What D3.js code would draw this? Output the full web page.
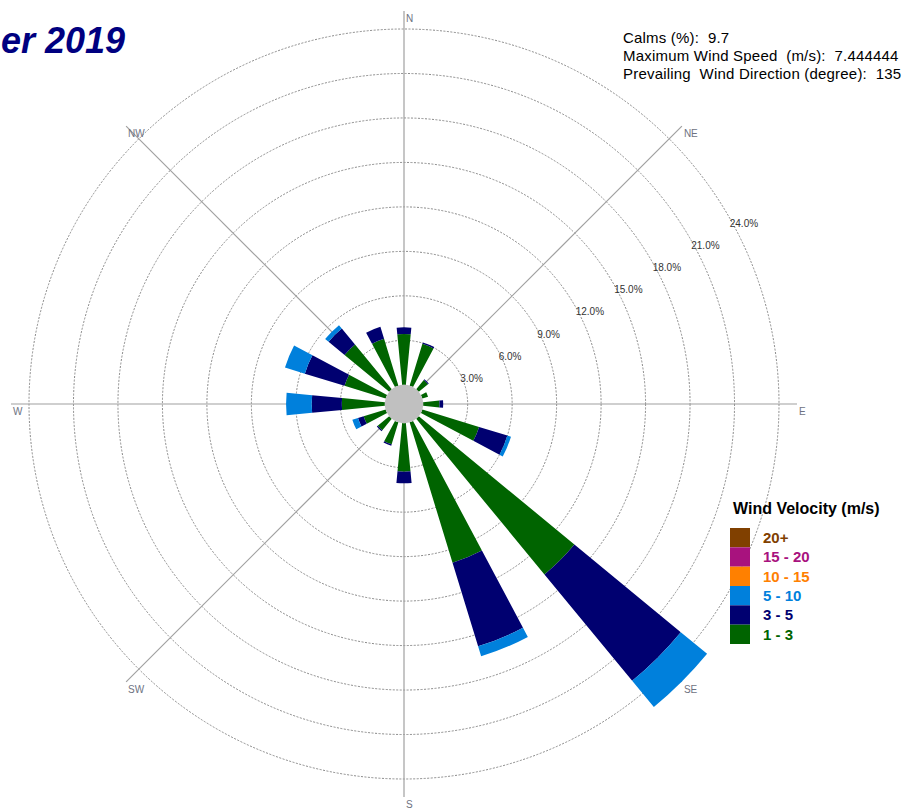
<!DOCTYPE html>
<html>
<head>
<meta charset="utf-8">
<script src="https://cdn.jsdelivr.net/npm/d3@7/dist/d3.min.js"></script>
<style>
    body { margin: 0; background: #ffffff; }
    svg text { font-family: Arial, "Liberation Sans", sans-serif; }
</style>
</head>
<body>
<div id="my_dataviz"></div>
<script>
// wind rose data, percent of all hours
var directions = ["N", "NNE", "NE", "ENE", "E", "ESE", "SE", "SSE", "S", "SSW", "SW", "WSW", "W", "WNW", "NW", "NNW"];
var speed1to3 = [3.43, 2.95, 0.8, 0.4, 1.1, 4.0, 13.6, 9.9, 3.27, 1.55, 1.0, 1.55, 2.9, 2.9, 3.9, 3.3];
var speed3to5 = [0.45, 0.1, 0.07, 0, 0.25, 2.0, 9.3, 5.9, 0.78, 0.1, 0.08, 0.4, 2.03, 2.8, 1.4, 0.85];
var speed5to10 = [0, 0, 0, 0, 0, 0.25, 2.3, 0.7, 0, 0, 0, 0.4, 1.73, 1.4, 0.3, 0];
var speed10to15 = [0, 0, 0, 0, 0, 0, 0, 0, 0, 0, 0, 0, 0, 0, 0, 0];
var speed15to20 = [0, 0, 0, 0, 0, 0, 0, 0, 0, 0, 0, 0, 0, 0, 0, 0];
var speed20plus = [0, 0, 0, 0, 0, 0, 0, 0, 0, 0, 0, 0, 0, 0, 0, 0];

var speedClasses = ["1 - 3", "3 - 5", "5 - 10", "10 - 15", "15 - 20", "20+"];
var classColors = ["#006400", "#000070", "#0080dc", "#ff8000", "#a8127e", "#804000"];

var ringTicks = [3, 6, 9, 12, 15, 18, 21, 24];
var compassLabels = ["N", "NE", "E", "SE", "S", "SW", "W", "NW"];

var titleText = "er 2019";
var infoLines = ["Calms (%):  9.7", "Maximum Wind Speed  (m/s):  7.444444", "Prevailing  Wind Direction (degree):  135"];
var legendTitle = "Wind Velocity (m/s)";

var width = 910;
var height = 810;
var cx = 404, cy = 404;
var calmRadius = 19.2;
var outerRadius = 375;
var axisLength = 393;

document.addEventListener('DOMContentLoaded', function () {
    drawWindRose();
});

function drawWindRose() {
    var svg = d3.select("#my_dataviz")
        .append("svg")
        .attr("width", width)
        .attr("height", height);

    var g = svg.append("g")
        .attr("transform", `translate(${cx},${cy})`);

    // radial scale starts at the edge of the calm circle
    const r = d3.scaleLinear()
        .domain([0, 24])
        .range([calmRadius, outerRadius]);

    // angle of each direction, 0 = north, clockwise
    const ang = d3.scalePoint()
        .domain(directions.concat(["N2"]))
        .range([0, 2 * Math.PI]);

    const compassAng = d3.scalePoint()
        .domain(compassLabels.concat(["N2"]))
        .range([0, 2 * Math.PI]);

    // dashed rings
    g.append("g")
        .selectAll("circle")
        .data(ringTicks)
        .join("circle")
        .attr("r", d => r(d))
        .style("fill", "none")
        .style("stroke", "#8a8a8a")
        .style("stroke-width", 1)
        .style("stroke-dasharray", "2,1.5");

    // compass axes
    g.append("g")
        .selectAll("line")
        .data(compassLabels)
        .join("line")
        .attr("x1", 0)
        .attr("y1", 0)
        .attr("x2", d => axisLength * Math.sin(compassAng(d)))
        .attr("y2", d => -axisLength * Math.cos(compassAng(d)))
        .style("stroke", "#a0a0a0")
        .style("stroke-width", 1.2);

    g.append("g")
        .selectAll("text")
        .data(compassLabels)
        .join("text")
        .attr("x", d => axisLength * Math.sin(compassAng(d)) + 2)
        .attr("y", d => -axisLength * Math.cos(compassAng(d)) + 11)
        .text(d => d)
        .style("font-size", "10px")
        .style("fill", "#6e7282");

    // ring labels at 30 degrees above east
    g.append("g")
        .selectAll("text")
        .data(ringTicks)
        .join("text")
        .attr("x", d => r(d) * Math.cos(Math.PI / 6) + 1)
        .attr("y", d => -r(d) * Math.sin(Math.PI / 6) + 10)
        .text(d => d.toFixed(1) + "%")
        .style("font-size", "10px")
        .style("fill", "#333333");

    // stack the speed classes
    var rows = directions.map(function (d, i) {
        return {
            dir: d,
            "1 - 3": speed1to3[i],
            "3 - 5": speed3to5[i],
            "5 - 10": speed5to10[i],
            "10 - 15": speed10to15[i],
            "15 - 20": speed15to20[i],
            "20+": speed20plus[i]
        };
    });
    var stacked = d3.stack().keys(speedClasses)(rows);

    var halfWidth = 5.5 * Math.PI / 180;
    var arc = d3.arc()
        .innerRadius(d => r(d[0]))
        .outerRadius(d => r(d[1]))
        .startAngle(d => ang(d.data.dir) - halfWidth)
        .endAngle(d => ang(d.data.dir) + halfWidth);

    g.append("g")
        .selectAll("g")
        .data(stacked)
        .join("g")
        .style("fill", (d, i) => classColors[i])
        .selectAll("path")
        .data(d => d.filter(s => s[1] - s[0] > 0))
        .join("path")
        .attr("d", arc);

    // calm circle
    g.append("circle")
        .attr("r", calmRadius)
        .style("fill", "#c0c0c0");

    // title, cut off at the left edge like the original
    svg.append("text")
        .attr("x", 125)
        .attr("y", 53)
        .attr("text-anchor", "end")
        .text(titleText)
        .style("font-size", "36px")
        .style("font-weight", "bold")
        .style("font-style", "italic")
        .style("fill", "#000080");

    // info block
    svg.append("g")
        .selectAll("text")
        .data(infoLines)
        .join("text")
        .attr("x", 623)
        .attr("y", (d, i) => 43 + i * 17.8)
        .text(d => d)
        .style("font-size", "15px")
        .style("letter-spacing", "0.2px")
        .style("white-space", "pre")
        .style("fill", "#000000");

    // legend
    svg.append("text")
        .attr("x", 733)
        .attr("y", 514)
        .text(legendTitle)
        .style("font-size", "16px")
        .style("font-weight", "bold")
        .style("fill", "#000000");

    var legendClasses = speedClasses.slice().reverse();
    var legendColors = classColors.slice().reverse();
    const ly = d3.scaleBand()
        .domain(legendClasses)
        .range([528, 644]);

    svg.append("g")
        .selectAll("rect")
        .data(legendClasses)
        .join("rect")
        .attr("x", 730)
        .attr("y", d => ly(d))
        .attr("width", 20)
        .attr("height", ly.bandwidth())
        .style("fill", (d, i) => legendColors[i]);

    svg.append("g")
        .selectAll("text")
        .data(legendClasses)
        .join("text")
        .attr("x", 763)
        .attr("y", d => ly(d) + ly.bandwidth() - 4.5)
        .text(d => d)
        .style("font-size", "15px")
        .style("font-weight", "bold")
        .style("fill", (d, i) => legendColors[i]);
}
</script>
</body>
</html>
